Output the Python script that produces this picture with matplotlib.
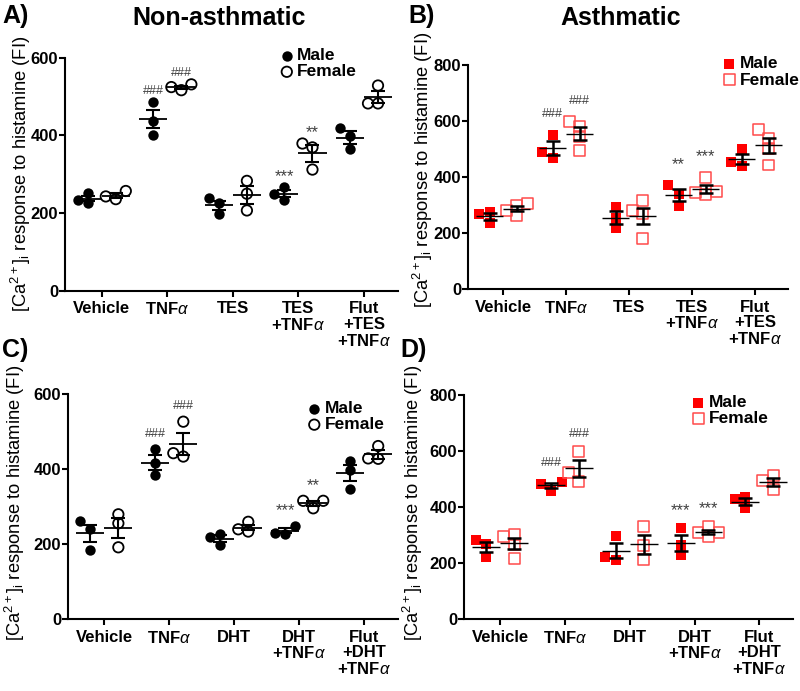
import numpy as np
import matplotlib
matplotlib.use("Agg")
import matplotlib.pyplot as plt

plt.rcParams['font.family'] = ['Liberation Sans', 'DejaVu Sans']
plt.rcParams['mathtext.fontset'] = 'custom'
plt.rcParams['mathtext.rm'] = 'Liberation Sans'
plt.rcParams['mathtext.it'] = 'Liberation Sans:italic'
plt.rcParams['mathtext.bf'] = 'Liberation Sans:bold'

# categories
cats_tes = ['Vehicle', 'TNF$\\alpha$', 'TES', 'TES\n+TNF$\\alpha$', 'Flut\n+TES\n+TNF$\\alpha$']
cats_dht = ['Vehicle', 'TNF$\\alpha$', 'DHT', 'DHT\n+TNF$\\alpha$', 'Flut\n+DHT\n+TNF$\\alpha$']

# A) non-asthmatic, TES
a_male = [[227, 251, 234], [485, 438, 402], [226, 198, 238], [266, 234, 250], [399, 365, 419]]
a_female = [[236, 257, 243], [516, 531, 524], [283, 250, 207], [369, 312, 379], [482, 528, 482]]
# B) asthmatic, TES
b_male = [[277, 236, 268], [468, 551, 491], [295, 254, 218], [339, 372, 297], [500, 440, 456]]
b_female = [[305, 265, 300, 283], [583, 599, 497, 545], [317, 269, 182, 283],
            [400, 337, 350, 345], [539, 571, 444, 504]]
# C) non-asthmatic, DHT
c_male = [[240, 185, 262], [453, 416, 385], [228, 198, 220], [228, 250, 231], [398, 348, 422]]
c_female = [[256, 192, 280], [434, 527, 443], [260, 234, 240], [296, 316, 316], [428, 462, 429]]
# D) asthmatic, DHT
d_male = [[269, 224, 283], [460, 492, 482], [212, 299, 224], [325, 265, 230], [429, 396, 436]]
d_female = [[295, 218, 304, 267], [599, 525, 492], [331, 262, 212], [331, 295, 310, 310], [512, 464, 495]]

# significance marks: (category, sex, text)
a_marks = [(1, 'M', '###'), (1, 'F', '###'), (3, 'M', '***'), (3, 'F', '**')]
b_marks = [(1, 'M', '###'), (1, 'F', '###'), (3, 'M', '**'), (3, 'F', '***')]
c_marks = [(1, 'M', '###'), (1, 'F', '###'), (3, 'M', '***'), (3, 'F', '**')]
d_marks = [(1, 'M', '###'), (1, 'F', '###'), (3, 'M', '***'), (3, 'F', '***')]

W, H = 800, 691
fig = plt.figure(figsize=(W / 100, H / 100), dpi=100)


def px_axes(left, right, y0, ytop):
    return fig.add_axes([left / W, (H - y0) / H, (right - left) / W, (y0 - ytop) / H])


def swarm(vals, d_px, px_x, px_y):
    # simple beeswarm: shift overlapping points sideways
    offs = np.zeros(len(vals))
    placed = []
    for i in np.argsort(vals):
        y = vals[i] * px_y
        for k in [0, -1, 1, -2, 2]:
            x = k * d_px
            if all(np.hypot(x - px, y - py) >= d_px * 0.9 for px, py in placed):
                break
        placed.append((x, y))
        offs[i] = x / px_x
    return offs


def draw_panel(ax, cats, male, female, ymax, marks, red, mark_off, leg_anchor):
    ax.set_xlim(-0.56, 4.52)
    ax.set_ylim(0, ymax)
    bb = ax.get_window_extent()
    px_x = bb.width / 5.08
    px_y = bb.height / ymax
    if red:
        mk, s, d_px = 's', 62, 10.5
        sty_m = dict(facecolor='#ff0000', edgecolor='#ff0000', linewidths=0)
        sty_f = dict(facecolor='none', edgecolor='#ff4a4a', linewidths=1.1)
        bar_lw, mean_lw = 1.8, 1.0
    else:
        mk, s, d_px = 'o', 56, 10.0
        sty_m = dict(facecolor='black', edgecolor='black', linewidths=0)
        sty_f = dict(facecolor='none', edgecolor='black', linewidths=1.3)
        bar_lw, mean_lw = 1.5, 1.3
    tops = {}
    for i in range(len(cats)):
        for vals, sign, sty, lab, key in [(male[i], -1, sty_m, 'Male', 'M'),
                                          (female[i], 1, sty_f, 'Female', 'F')]:
            v = np.array(vals, float)
            c = i + sign * 0.215
            ax.scatter(c + swarm(v, d_px, px_x, px_y), v, marker=mk, s=s, zorder=3,
                       label=lab if i == 0 else None, **sty)
            m = v.mean()
            sem = v.std(ddof=1) / np.sqrt(len(v))
            ax.hlines(m, c - 0.215, c + 0.215, color='black', lw=mean_lw, zorder=4)
            ax.errorbar(c, m, yerr=sem, fmt='none', ecolor='black', elinewidth=bar_lw,
                        capsize=5.2, capthick=bar_lw, zorder=4)
            tops[(i, key)] = (c, max(v.max(), m + sem))
    for i, key, txt in marks:
        c, top = tops[(i, key)]
        fs = 9 if txt.startswith('#') else 12
        ax.annotate(txt, xy=(c, top), xytext=(0, mark_off), textcoords='offset points',
                    ha='center', va='center', fontsize=fs, color='0.25')
    for sp in ['top', 'right']:
        ax.spines[sp].set_visible(False)
    for sp in ['left', 'bottom']:
        ax.spines[sp].set_linewidth(1.5)
    ax.set_xticks(range(len(cats)))
    ax.set_xticklabels(cats, fontsize=12, fontweight='bold', linespacing=1.05)
    ax.set_yticks(np.arange(0, ymax + 1, 200))
    ax.tick_params(axis='both', width=1.5, length=4, labelsize=12)
    ax.tick_params(axis='y', pad=1)
    for t in ax.get_yticklabels():
        t.set_fontweight('bold')
    ax.legend(loc='upper left', bbox_to_anchor=leg_anchor, frameon=False, borderaxespad=0,
              borderpad=0, handletextpad=0.1, labelspacing=0.05, handlelength=1.0,
              prop=dict(weight='bold', size=12.5))


ylab = '[Ca$^{2+}$]$_{\\mathrm{i}}$ response to histamine (FI)'

axA = px_axes(65, 398, 291, 57.5)
draw_panel(axA, cats_tes, a_male, a_female, 600, a_marks, False, 8, (0.64, 1.04))
axB = px_axes(468, 788, 289.3, 65.3)
draw_panel(axB, cats_tes, b_male, b_female, 800, b_marks, True, 15, (0.79, 1.04))
axC = px_axes(68, 398, 619.3, 394.3)
draw_panel(axC, cats_dht, c_male, c_female, 600, c_marks, False, 11, (0.72, 0.97))
axD = px_axes(464, 793, 619.3, 395.3)
draw_panel(axD, cats_dht, d_male, d_female, 800, d_marks, True, 13, (0.685, 1.0))

for x, y in [(21, 174), (423, 170), (15, 503), (413, 503)]:
    fig.text(x / W, 1 - y / H, ylab, rotation=90, ha='center', va='center', fontsize=13.2)

for x, y, txt in [(2, 23, 'A)'), (408, 23, 'B)'), (2, 357, 'C)'), (400, 357, 'D)')]:
    fig.text(x / W, 1 - y / H, txt, fontsize=18, fontweight='bold', va='baseline')
for x, txt in [(219, 'Non-asthmatic'), (621, 'Asthmatic')]:
    fig.text(x / W, 1 - 25 / H, txt, fontsize=18, fontweight='bold', ha='center', va='baseline')

fig.savefig('out.png', dpi=100)
